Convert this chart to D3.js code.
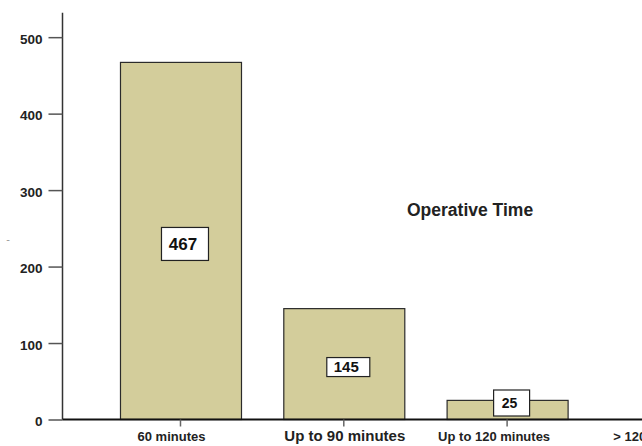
<!DOCTYPE html>
<html><head><meta charset="utf-8">
<script src="https://cdn.jsdelivr.net/npm/d3@7"></script>
<style>html,body{margin:0;padding:0;background:#fff;overflow:hidden}svg{display:block;font-family:"Liberation Sans",Arial,sans-serif}</style>
</head><body>
<svg id="chart" width="642" height="446"></svg>
<script>
const categories = ["60 minutes", "Up to 90 minutes", "Up to 120 minutes", "> 120 minutes"];
const counts = [467, 145, 25, 0];
const yTicks = [0, 100, 200, 300, 400, 500];
const chartTitle = "Operative Time";

// styling (not data)
const labelFont = [13, 15, 13, 13];
const labelDx = [-9, 1, -13, -14];
const boxFont = [17, 15, 14];
const boxSize = [[47, 33], [43, 19], [36, 26]];

const svg = d3.select("#chart");
const W = 642, H = 446;
const y = d3.scaleLinear().domain([0, 532]).range([419.5, 12.7]);
const x = d3.scaleBand().domain(categories).range([62.5, 788.4]).paddingInner(0.259).paddingOuter(0.352);

// bars
svg.append("g").selectAll("rect").data(categories.map((c, i) => ({c, v: counts[i], i})).filter(d => d.v > 0))
  .join("rect")
  .attr("x", d => x(d.c) + 0.5)
  .attr("y", d => y(d.v))
  .attr("width", x.bandwidth())
  .attr("height", d => y(0) - y(d.v))
  .attr("fill", "#d3cd9b")
  .attr("stroke", "#2b2b2b")
  .attr("stroke-width", 1.2);

// y axis
const yAxis = svg.append("g").attr("transform", "translate(62.5,0)")
  .call(d3.axisLeft(y).tickValues(yTicks).tickSize(14).tickPadding(6).tickFormat(d3.format("d")));
yAxis.select(".domain").attr("d", `M0,${y(0)}V12.7`).attr("stroke", "#333").attr("stroke-width", 1.5);
yAxis.selectAll(".tick line").attr("stroke", "#555").attr("stroke-width", 1.5);
yAxis.selectAll(".tick text").attr("font-size", 13.5).attr("font-weight", "bold")
  .attr("fill", "#222").attr("font-family", '"Liberation Sans",Arial,sans-serif').attr("dy", "0.45em");

// baseline and x axis
const xAxis = svg.append("g").attr("transform", `translate(0,${y(0)})`)
  .call(d3.axisBottom(x).tickSize(7).tickPadding(0));
xAxis.select(".domain").attr("d", `M62.5,0H${W}`).attr("stroke", "#111").attr("stroke-width", 1.8);
xAxis.selectAll(".tick line").attr("stroke", "#666").attr("stroke-width", 1.5);
xAxis.selectAll(".tick text")
  .attr("font-size", (d, i) => labelFont[i]).attr("font-weight", "bold").attr("fill", "#222")
  .attr("font-family", '"Liberation Sans",Arial,sans-serif')
  .attr("dy", null).attr("y", 21.5).attr("dx", (d, i) => labelDx[i]);

// value label boxes
const lbl = svg.append("g").selectAll("g").data(counts.map((v, i) => ({v, i, c: categories[i]})).filter(d => d.v > 0))
  .join("g");
lbl.each(function(d) {
  const g = d3.select(this);
  const cx = x(d.c) + x.bandwidth() / 2;
  const mid = (y(d.v) + y(0)) / 2;
  const [bw, bh] = boxSize[d.i];
  const cy = Math.min(mid + 3, y(0) - 16.5);
  g.append("rect").attr("x", cx + 4.5 - bw / 2).attr("y", cy - bh / 2)
    .attr("width", bw).attr("height", bh).attr("fill", "#fff").attr("stroke", "#222").attr("stroke-width", 1.2);
  g.append("text").attr("x", cx + 2.5).attr("y", cy).attr("dy", "0.36em")
    .attr("text-anchor", "middle").attr("font-size", boxFont[d.i]).attr("font-weight", "bold")
    .attr("fill", "#111").text(d3.format("d")(d.v));
});

// title
svg.append("text").attr("x", 407).attr("y", 216).attr("font-size", 17.5).attr("font-weight", "bold")
  .attr("fill", "#222").text(chartTitle);

// stray y-axis mark
svg.append("text").attr("x", 8).attr("y", 243).attr("text-anchor", "middle")
  .attr("font-size", 11).attr("fill", "#999").text("-");
</script>
</body></html>
